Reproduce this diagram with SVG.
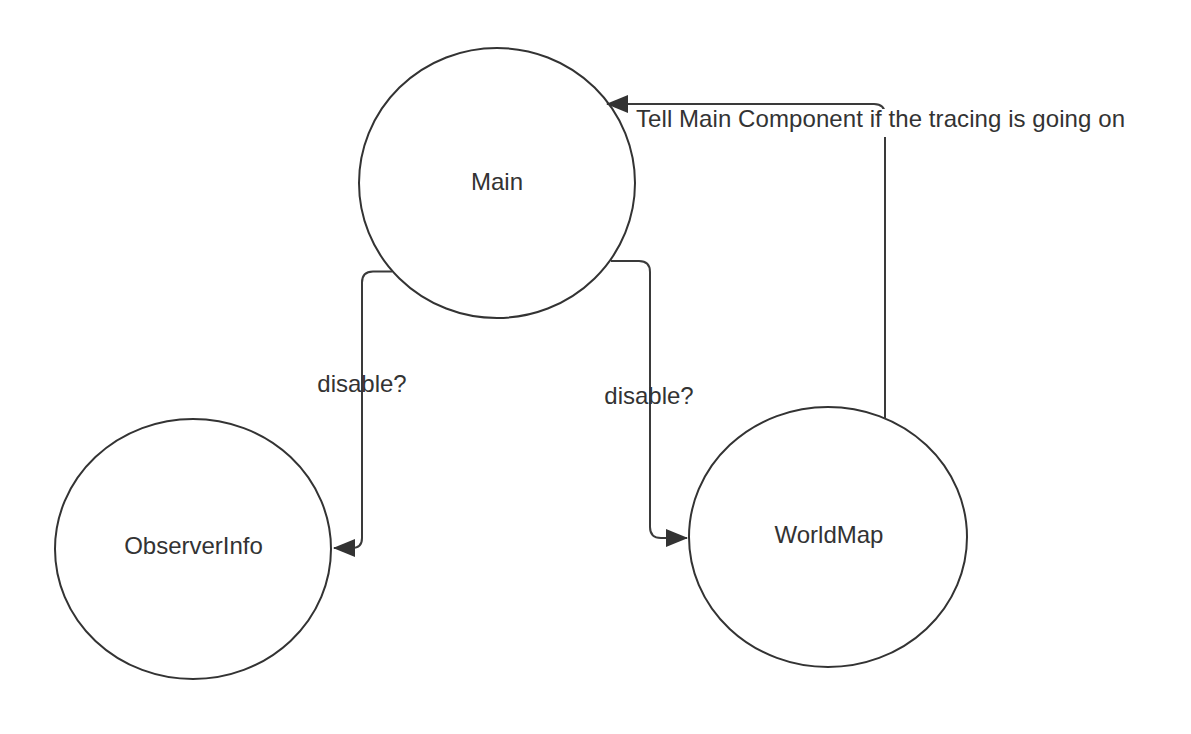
<svg xmlns="http://www.w3.org/2000/svg" width="1191" height="734" viewBox="0 0 1191 734">
<style>
.node{fill:#fff;stroke:#333;stroke-width:2}
.edge{fill:none;stroke:#3a3a3a;stroke-width:2}
.t{font-family:"Liberation Sans",Arial,sans-serif;font-size:24px;fill:#333}
.c{text-anchor:middle}
</style>
<defs>
<marker id="arr" markerWidth="22" markerHeight="18" refX="21" refY="9" orient="auto" markerUnits="userSpaceOnUse">
<path d="M0,0 L22,9 L0,18 Z" fill="#333"/>
</marker>
</defs>
<rect width="1191" height="734" fill="#fff"/>
<g id="main"><ellipse class="node" cx="497" cy="183" rx="138" ry="135"/><text class="t c" x="497" y="190">Main</text></g>
<g id="observerinfo"><ellipse class="node" cx="193" cy="549" rx="138" ry="130"/><text class="t c" x="193.5" y="554">ObserverInfo</text></g>
<g id="worldmap"><ellipse class="node" cx="828" cy="537" rx="139" ry="130"/><text class="t c" x="829" y="543">WorldMap</text></g>
<g id="connectors">
<path class="edge" d="M392,271.5 H373 Q362,271.5 362,282.5 V538 Q362,548 352,548 H334" marker-end="url(#arr)"/>
<path class="edge" d="M611,261 H639 Q650,261 650,272 V527 Q650,538 661,538 H687" marker-end="url(#arr)"/>
<path class="edge" d="M885,419 V115 Q885,104 874,104 H607" marker-end="url(#arr)"/>
<rect x="634" y="109" width="496" height="28" fill="#fff"/>
<text class="t" x="636" y="127" textLength="489" lengthAdjust="spacing">Tell Main Component if the tracing is going on</text>
<text class="t c" x="362" y="392">disable?</text>
<text class="t c" x="649" y="404">disable?</text>
</g>
</svg>
